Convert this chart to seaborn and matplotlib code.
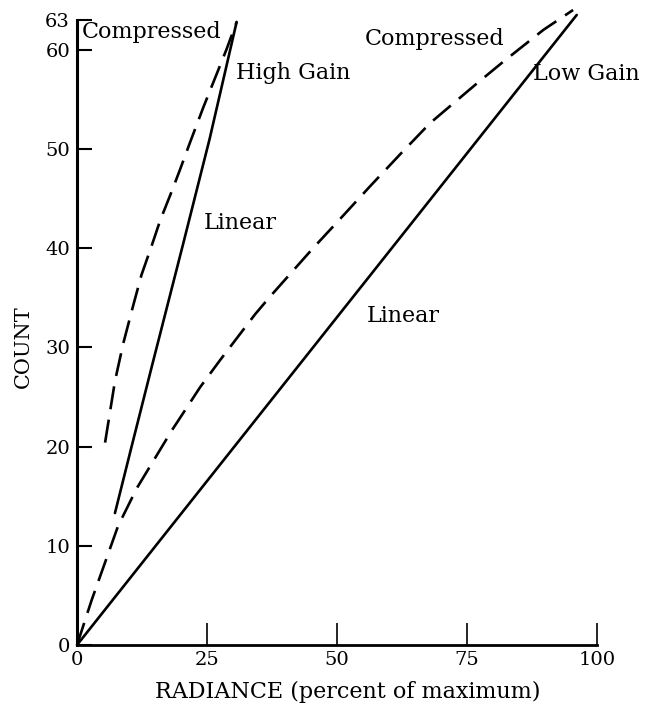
import pandas as pd
import numpy as np
import matplotlib
matplotlib.use("Agg")
import matplotlib.pyplot as plt
import seaborn as sns

# high gain curves
hg_lin_x = [7.3, 10.5, 14.4, 20.4, 25.5, 30.7]
hg_lin_y = [13.3, 20.0, 28.1, 40.4, 51.0, 62.8]
hg_cmp_x = [5.4, 7.3, 8.9, 10.8, 12.4, 14.4, 16.0, 18.2, 19.8, 21.7, 24.3, 26.9, 28.8, 30.7]
hg_cmp_y = [20.4, 26.6, 30.4, 34.2, 37.3, 40.3, 42.8, 45.7, 47.9, 50.6, 54.2, 57.6, 60.1, 62.8]

# low gain curves
lg_lin_x = [0.0, 96.1]
lg_lin_y = [0.0, 63.5]
lg_cmp_x = [0.0, 2.8, 7.9, 11.5, 18.2, 23.7, 27.5, 34.2, 37.1, 45.4, 50.0,
            56.3, 62.4, 67.9, 76.9, 82.0, 89.7, 95.4]
lg_cmp_y = [0.0, 4.5, 12.0, 15.8, 21.6, 26.0, 28.7, 33.3, 35.1, 40.0, 42.6,
            46.2, 49.6, 52.6, 56.6, 58.8, 62.0, 64.0]

y_ticks = [0, 10, 20, 30, 40, 50, 60, 63]
x_ticks = [0, 25, 50, 75, 100]

labels = [
    ("Compressed", 1.0, 61.8),
    ("High Gain", 30.6, 57.6),
    ("Linear", 24.4, 42.5),
    ("Compressed", 55.4, 61.1),
    ("Low Gain", 87.6, 57.6),
    ("Linear", 55.8, 33.2),
]

sns.set_style("ticks")
plt.rcParams['font.family'] = ['DejaVu Serif']

fig = plt.figure(figsize=(6.49, 7.09), dpi=100)
ax = fig.add_axes([77 / 649, 64 / 709, 520 / 649, 635 / 709])

dash = (0, (8.8, 4))
lw = 1.9
sns.lineplot(x=hg_lin_x, y=hg_lin_y, ax=ax, color="black", lw=lw, sort=False, clip_on=False)
sns.lineplot(x=hg_cmp_x, y=hg_cmp_y, ax=ax, color="black", lw=lw, linestyle=dash, sort=False, clip_on=False)
sns.lineplot(x=lg_lin_x, y=lg_lin_y, ax=ax, color="black", lw=lw, sort=False, clip_on=False)
sns.lineplot(x=lg_cmp_x, y=lg_cmp_y, ax=ax, color="black", lw=lw, linestyle=dash, sort=False, clip_on=False)

for txt, x, y in labels:
    ax.text(x, y, txt, fontsize=16, ha="left", va="center", color="black")

ax.set_xlim(0, 100)
ax.set_ylim(0, 64)
ax.set_xticks(x_ticks)
ax.set_yticks(y_ticks)
ax.tick_params(axis="y", direction="in", length=11, width=1.5, pad=5, labelsize=14, colors="black")
ax.tick_params(axis="x", direction="in", length=16, width=1.2, pad=4, labelsize=14, colors="black")

for s in ["top", "right"]:
    ax.spines[s].set_visible(False)
ax.spines["left"].set_linewidth(2.2)
ax.spines["left"].set_bounds(0, 63)
ax.spines["bottom"].set_linewidth(2.0)
ax.spines["left"].set_color("black")
ax.spines["bottom"].set_color("black")

ax.set_xlabel("RADIANCE (percent of maximum)", fontsize=16, color="black")
ax.set_ylabel("COUNT", fontsize=15, color="black")
ax.xaxis.set_label_coords(0.52, -0.057)
ax.yaxis.set_label_coords(-0.085, 0.47)

fig.savefig("out.png", dpi=100, facecolor="white")
